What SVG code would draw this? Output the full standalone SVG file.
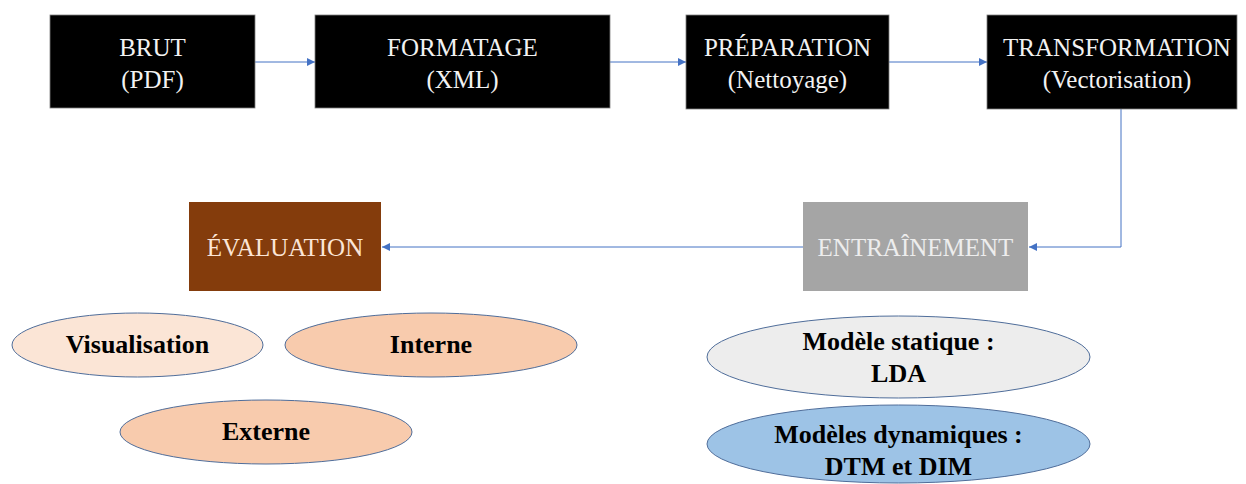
<svg xmlns="http://www.w3.org/2000/svg" width="1246" height="484" viewBox="0 0 1246 484">
<defs>
<style>
.box{stroke:#7f7f7f;stroke-width:0.8}
.bt{font-family:"Liberation Serif","Times New Roman",serif;font-size:25px;text-anchor:middle}
.et{font-family:"Liberation Serif","Times New Roman",serif;font-size:26px;font-weight:bold;text-anchor:middle;fill:#000}
.ell{stroke:#4f6d9a;stroke-width:1}
.con{fill:none;stroke:#4472C4;stroke-width:1}
</style>
<marker id="ah" viewBox="0 0 10 10" refX="10" refY="5" markerWidth="8" markerHeight="8" markerUnits="userSpaceOnUse" orient="auto">
<path d="M0,0 L10,5 L0,10 z" fill="#4472C4"/>
</marker>
</defs>
<rect width="1246" height="484" fill="#fff"/>
<g id="connectors">
<line class="con" x1="255" y1="62" x2="315" y2="62" marker-end="url(#ah)"/>
<line class="con" x1="610" y1="62" x2="686" y2="62" marker-end="url(#ah)"/>
<line class="con" x1="889" y1="62" x2="987" y2="62" marker-end="url(#ah)"/>
<polyline class="con" points="1121,109 1121,247 1029,247" marker-end="url(#ah)"/>
<line class="con" x1="803" y1="247" x2="382" y2="247" marker-end="url(#ah)"/>
</g>
<g id="brut">
<rect class="box" x="50" y="15" width="205" height="93" fill="#000"/>
<text class="bt" x="152.5" y="56" fill="#f2f2f2">BRUT</text>
<text class="bt" x="152.5" y="88" fill="#f2f2f2">(PDF)</text>
</g>
<g id="formatage">
<rect class="box" x="315" y="15" width="295" height="93" fill="#000"/>
<text class="bt" x="462.5" y="56" fill="#f2f2f2">FORMATAGE</text>
<text class="bt" x="462.5" y="88" fill="#f2f2f2">(XML)</text>
</g>
<g id="preparation">
<rect class="box" x="686" y="15" width="203" height="94" fill="#000"/>
<text class="bt" x="787.5" y="56" fill="#f2f2f2">PRÉPARATION</text>
<text class="bt" x="787.5" y="88" fill="#f2f2f2">(Nettoyage)</text>
</g>
<g id="transformation">
<rect class="box" x="987" y="15" width="250" height="94" fill="#000"/>
<text class="bt" x="1117" y="56" fill="#f2f2f2">TRANSFORMATION</text>
<text class="bt" x="1117" y="88" fill="#f2f2f2">(Vectorisation)</text>
</g>
<g id="entrainement">
<rect x="803" y="202" width="225" height="89" fill="#a5a5a5"/>
<text class="bt" x="915.5" y="256" fill="#ededed">ENTRAÎNEMENT</text>
</g>
<g id="evaluation">
<rect x="189" y="202" width="192" height="89" fill="#843c0c"/>
<text class="bt" x="285" y="256" fill="#fbe5d6">ÉVALUATION</text>
</g>
<g id="visualisation">
<ellipse class="ell" cx="137.5" cy="345" rx="125.5" ry="32" fill="#fbe5d6"/>
<text class="et" x="137.5" y="353">Visualisation</text>
</g>
<g id="interne">
<ellipse class="ell" cx="431" cy="345" rx="146" ry="32" fill="#f8cbad"/>
<text class="et" x="431" y="353">Interne</text>
</g>
<g id="externe">
<ellipse class="ell" cx="266" cy="432" rx="146" ry="32" fill="#f8cbad"/>
<text class="et" x="266" y="440">Externe</text>
</g>
<g id="lda">
<ellipse class="ell" cx="898.5" cy="357" rx="191.5" ry="41" fill="#ededed"/>
<text class="et" x="898.5" y="350">Modèle statique :</text>
<text class="et" x="898.5" y="382">LDA</text>
</g>
<g id="dtm">
<ellipse class="ell" cx="898.5" cy="444" rx="191.5" ry="39" fill="#9dc3e6"/>
<text class="et" x="898.5" y="443">Modèles dynamiques :</text>
<text class="et" x="898.5" y="475">DTM et DIM</text>
</g>
</svg>
